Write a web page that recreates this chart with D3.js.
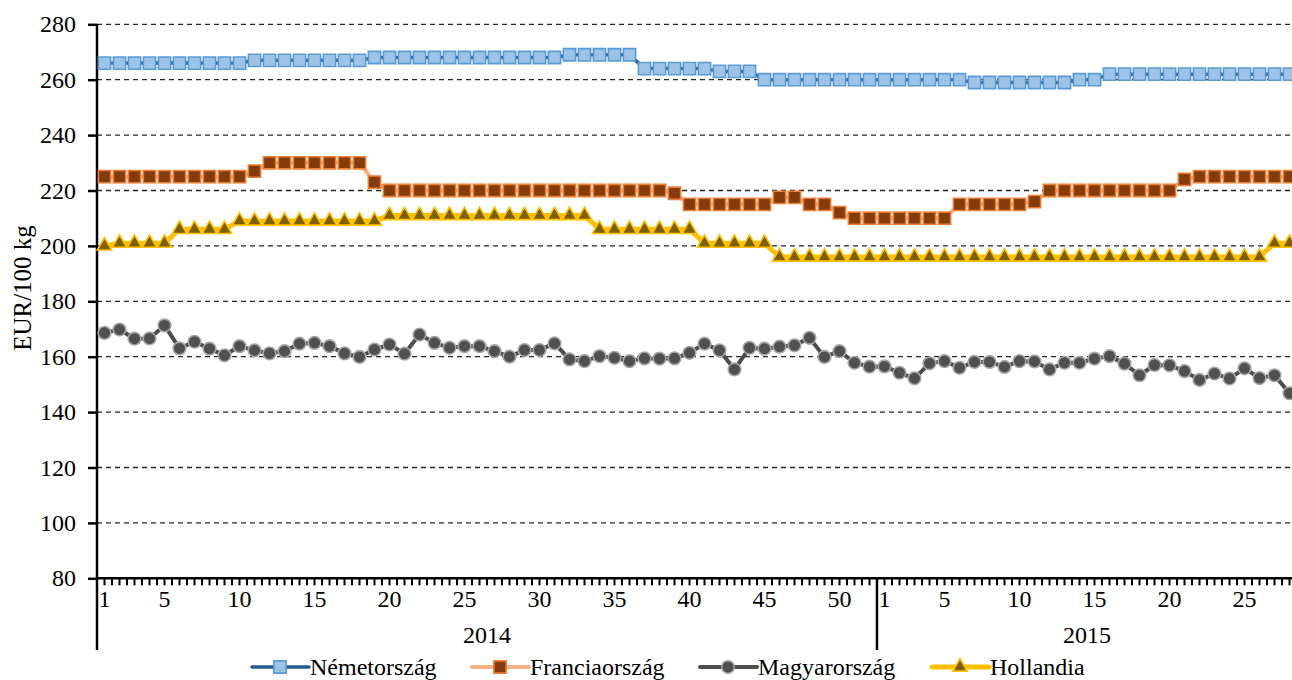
<!DOCTYPE html>
<html lang="hu">
<head>
<meta charset="UTF-8">
<script src="https://cdn.jsdelivr.net/npm/d3@7"></script>
<style>
    body { margin: 0; background: #fff; }
    svg { display: block; font-family: "Liberation Serif", "Times New Roman", serif; }
    svg text { font-family: "Liberation Serif", "Times New Roman", serif; }
</style>
</head>
<body>
<svg id="chart" width="1292" height="680"></svg>
<script>
    // weeks on the category axis
    var weeks2014 = d3.range(1, 53);
    var weeks2015 = d3.range(1, 29);
    var years = [2014, 2015];
    var yTicks = [80, 100, 120, 140, 160, 180, 200, 220, 240, 260, 280];

    // EUR/100 kg, weekly
    var nemetorszag = [
        266, 266, 266, 266, 266, 266, 266, 266, 266, 266,
        267, 267, 267, 267, 267, 267, 267, 267,
        268, 268, 268, 268, 268, 268, 268, 268, 268, 268, 268, 268, 268,
        269, 269, 269, 269, 269,
        264, 264, 264, 264, 264,
        263, 263, 263,
        260, 260, 260, 260, 260, 260, 260, 260,
        260, 260, 260, 260, 260, 260,
        259, 259, 259, 259, 259, 259, 259,
        260, 260,
        262, 262, 262, 262, 262, 262, 262, 262, 262, 262, 262, 262, 262
    ];
    var franciaorszag = [
        225, 225, 225, 225, 225, 225, 225, 225, 225, 225,
        227,
        230, 230, 230, 230, 230, 230, 230,
        223,
        220, 220, 220, 220, 220, 220, 220, 220, 220, 220, 220, 220, 220, 220, 220, 220, 220, 220, 220,
        219,
        215, 215, 215, 215, 215, 215,
        217.5, 217.5,
        215, 215,
        212,
        210, 210,
        210, 210, 210, 210, 210,
        215, 215, 215, 215, 215,
        216,
        220, 220, 220, 220, 220, 220, 220, 220, 220,
        224,
        225, 225, 225, 225, 225, 225, 225
    ];
    var magyarorszag = [
        168.6, 169.8, 166.5, 166.6, 171.3, 163.0, 165.4, 162.9, 160.5, 163.8,
        162.3, 161.2, 162.0, 164.7, 165.0, 163.8, 161.2, 159.9, 162.6, 164.4,
        161.1, 168.0, 165.0, 163.2, 163.8, 163.8, 162.0, 160.0, 162.4, 162.4,
        164.8, 159.0, 158.4, 160.2, 159.6, 158.4, 159.4, 159.3, 159.4, 161.4,
        164.7, 162.3, 155.4, 163.2, 162.9, 163.6, 164.1, 166.8, 159.9, 162.0,
        157.8, 156.4,
        156.5, 154.2, 152.2, 157.6, 158.4, 156.0, 158.1, 158.1, 156.3, 158.4,
        158.3, 155.4, 157.8, 157.8, 159.3, 160.2, 157.5, 153.3, 157.0, 156.9,
        154.8, 151.6, 153.9, 152.1, 155.8, 152.3, 153.3, 146.8
    ];
    var hollandia = [
        200,
        201, 201, 201, 201,
        206, 206, 206, 206,
        209, 209, 209, 209, 209, 209, 209, 209, 209, 209,
        211, 211, 211, 211, 211, 211, 211, 211, 211, 211, 211, 211, 211, 211,
        206, 206, 206, 206, 206, 206, 206,
        201, 201, 201, 201, 201,
        196, 196, 196, 196, 196, 196, 196,
        196, 196, 196, 196, 196, 196, 196, 196, 196, 196, 196, 196, 196,
        196, 196, 196, 196, 196, 196, 196, 196, 196, 196, 196, 196, 196,
        201, 201
    ];

    var categories = weeks2014.map(function (w) { return {year: 2014, week: w}; })
        .concat(weeks2015.map(function (w) { return {year: 2015, week: w}; }));
    var keys = categories.map(function (c) { return c.year + "-" + c.week; });

    var series = [
        {name: "Németország", values: nemetorszag, line: "#245a8d", fill: "#9dc3e6", stroke: "#5b9bd5", symbol: d3.symbolSquare, size: 150, lw: 3.5},
        {name: "Franciaország", values: franciaorszag, line: "#f4b183", fill: "#843c0c", stroke: "#ed7d31", symbol: d3.symbolSquare, size: 150, lw: 4},
        {name: "Magyarország", values: magyarorszag, line: "#4d4d4d", fill: "#505050", stroke: "#a5a5a5", symbol: d3.symbolCircle, size: 125, lw: 4},
        {name: "Hollandia", values: hollandia, line: "#ffc000", fill: "#7f6000", stroke: "#ffc000", symbol: d3.symbolTriangle, size: 90, lw: 5}
    ];

    var svg = d3.select("#chart");
    var plotLeft = 97, plotTop = 24.3, plotBottom = 578.3;

    var x = d3.scaleBand().domain(keys).range([plotLeft, plotLeft + keys.length * 15]);
    var y = d3.scaleLinear().domain([80, 280]).range([plotBottom, plotTop]);

    // dashed gridlines
    svg.append("g")
        .selectAll("line")
        .data(yTicks.filter(function (d) { return d > 80; }))
        .enter()
        .append("line")
        .attr("x1", plotLeft)
        .attr("x2", 1292)
        .attr("y1", function (d) { return y(d); })
        .attr("y2", function (d) { return y(d); })
        .attr("stroke", "#262626")
        .attr("stroke-width", 1.3)
        .attr("stroke-dasharray", "5,4");

    // y axis
    var yAxis = svg.append("g")
        .attr("transform", "translate(" + plotLeft + ",0)")
        .call(d3.axisLeft(y).tickValues(yTicks).tickSize(9).tickPadding(12));
    yAxis.attr("font-family", null).attr("font-size", null);
    yAxis.select(".domain").remove();
    yAxis.selectAll(".tick line").attr("stroke", "#000").attr("stroke-width", 2.5);
    yAxis.selectAll("text")
        .attr("font-size", 24)
        .attr("fill", "#000");

    svg.append("text")
        .attr("transform", "translate(31,288) rotate(-90)")
        .attr("text-anchor", "middle")
        .attr("font-size", 25)
        .text("EUR/100 kg");

    // x axis comb: tick every half week
    var combX = d3.range(0, keys.length * 2 + 1).map(function (i) { return plotLeft + i * x.bandwidth() / 2; });
    svg.append("g")
        .selectAll("line")
        .data(combX)
        .enter()
        .append("line")
        .attr("x1", function (d) { return d; })
        .attr("x2", function (d) { return d; })
        .attr("y1", plotBottom)
        .attr("y2", plotBottom + 7)
        .attr("stroke", "#000")
        .attr("stroke-width", 2);

    var labelKeys = categories.filter(function (c) { return c.week === 1 || c.week % 5 === 0; })
        .map(function (c) { return c.year + "-" + c.week; });
    var xAxis = svg.append("g")
        .attr("transform", "translate(0," + plotBottom + ")")
        .call(d3.axisBottom(x).tickValues(labelKeys).tickSize(0).tickPadding(12)
            .tickFormat(function (k) { return k.split("-")[1]; }));
    xAxis.attr("font-family", null).attr("font-size", null);
    xAxis.select(".domain").remove();
    xAxis.selectAll("text")
        .attr("font-size", 24)
        .attr("fill", "#000");

    // year groups
    var yearSpan = years.map(function (yr) {
        var ks = keys.filter(function (k) { return k.indexOf(yr + "-") === 0; });
        return {year: yr, x0: x(ks[0]), x1: x(ks[ks.length - 1]) + x.bandwidth()};
    });
    svg.append("g")
        .selectAll("text")
        .data(yearSpan)
        .enter()
        .append("text")
        .attr("x", function (d) { return (d.x0 + d.x1) / 2; })
        .attr("y", 643)
        .attr("text-anchor", "middle")
        .attr("font-size", 24)
        .text(function (d) { return d.year; });
    svg.append("g")
        .selectAll("line")
        .data(yearSpan)
        .enter()
        .append("line")
        .attr("x1", function (d) { return d.x1; })
        .attr("x2", function (d) { return d.x1; })
        .attr("y1", plotBottom)
        .attr("y2", 650)
        .attr("stroke", "#000")
        .attr("stroke-width", 2.5);

    // axis lines
    svg.append("line")
        .attr("x1", plotLeft).attr("x2", plotLeft)
        .attr("y1", plotTop).attr("y2", 650)
        .attr("stroke", "#000").attr("stroke-width", 2.5);
    svg.append("line")
        .attr("x1", plotLeft).attr("x2", 1292)
        .attr("y1", plotBottom).attr("y2", plotBottom)
        .attr("stroke", "#000").attr("stroke-width", 2.5);

    // series
    var line = d3.line()
        .x(function (d, i) { return x(keys[i]) + x.bandwidth() / 2; })
        .y(function (d) { return y(d); });

    series.forEach(function (s) {
        var g = svg.append("g");
        g.append("path")
            .attr("d", line(s.values))
            .attr("fill", "none")
            .attr("stroke", s.line)
            .attr("stroke-width", s.lw)
            .attr("stroke-linejoin", "round");
        g.selectAll("path.mark")
            .data(s.values)
            .enter()
            .append("path")
            .attr("class", "mark")
            .attr("d", d3.symbol().type(s.symbol).size(s.size))
            .attr("transform", function (d, i) {
                return "translate(" + (x(keys[i]) + x.bandwidth() / 2) + "," + y(d) + ")";
            })
            .attr("fill", s.fill)
            .attr("stroke", s.stroke)
            .attr("stroke-width", 1.6);
    });

    // legend
    var legendX = [252, 472, 700, 932];
    var legend = svg.append("g")
        .selectAll("g")
        .data(series)
        .enter()
        .append("g")
        .attr("transform", function (d, i) { return "translate(" + legendX[i] + ",667)"; });
    legend.append("line")
        .attr("x1", 0).attr("x2", 57)
        .attr("stroke", function (d) { return d.line; })
        .attr("stroke-width", function (d) { return d.lw; })
        .attr("stroke-linecap", "round");
    legend.append("path")
        .attr("d", function (d) { return d3.symbol().type(d.symbol).size(d.size)(); })
        .attr("transform", "translate(28,0)")
        .attr("fill", function (d) { return d.fill; })
        .attr("stroke", function (d) { return d.stroke; })
        .attr("stroke-width", 1.6);
    legend.append("text")
        .attr("x", 58)
        .attr("y", 8)
        .attr("font-size", 24)
        .text(function (d) { return d.name; });
</script>
</body>
</html>
